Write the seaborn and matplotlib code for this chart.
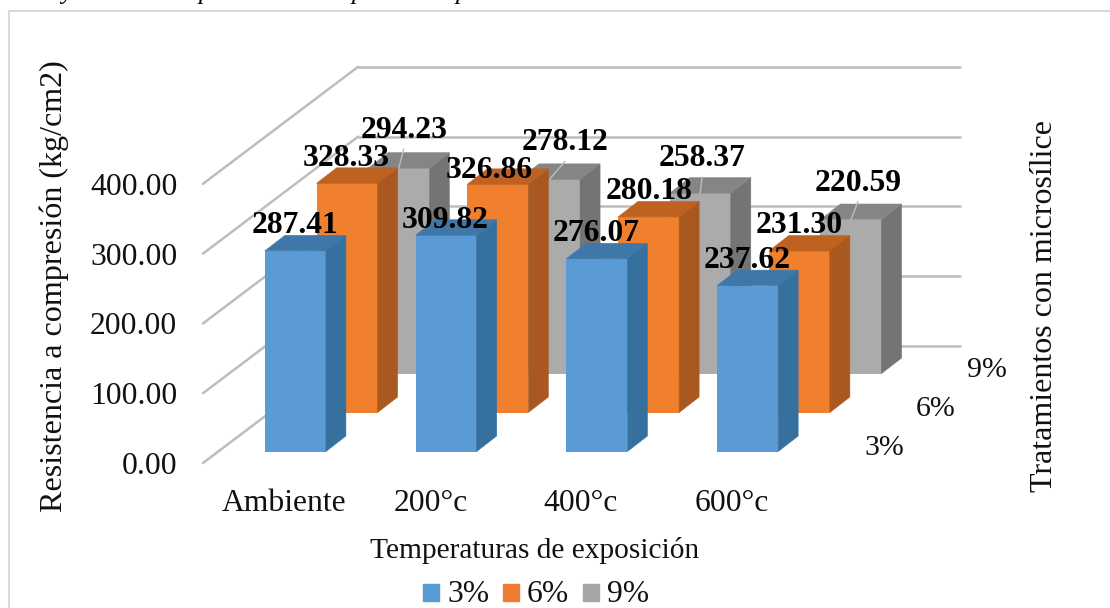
import seaborn as sns
import pandas as pd
import matplotlib.pyplot as plt
from matplotlib.legend_handler import HandlerPatch
from matplotlib.lines import Line2D
from matplotlib.patches import ConnectionPatch, Patch, Polygon, Rectangle
from matplotlib.transforms import ScaledTranslation

temperaturas = ["Ambiente", "200°c", "400°c", "600°c"]
tratamientos = ["3%", "6%", "9%"]
valores_3 = [287.41, 309.82, 276.07, 237.62]
valores_6 = [328.33, 326.86, 280.18, 231.30]
valores_9 = [294.23, 278.12, 258.37, 220.59]
y_ticks = [0, 100, 200, 300, 400]
letras_caption = ["y", "p", "p", "p"]

W, H = 1110, 608
sns.set_theme(style="white")
plt.rcParams["font.family"] = ["Liberation Serif", "DejaVu Serif"]
plt.rcParams["text.color"] = "#111111"

# colores: frente, lado, tapa
colores = [("#5B9BD5", "#36709F", "#3F78A8"),
           ("#F07F2E", "#A9581F", "#BF6120"),
           ("#ABABAB", "#747474", "#858585")]
color_leyenda = ["#5B9BD5", "#ED7D31", "#A5A5A5"]
color_grid = "#BDBDBD"

# posicion de cada etiqueta respecto a la barra, en pixeles
offsets = [[(-0.5, 18), (-1, 7), (-1, 18), (0, 17.6)],
           [(-1, 17.6), (-9, 6.6), (0, 18), (0, 18.4)],
           [(5, 30), (15.4, 29), (1.7, 27), (7, 29)]]
# ajuste horizontal de las etiquetas del eje x, en pixeles
ajuste_x = [6, 2, 1, 1]

ANCHO, ALTO = 603, 279.2   # plano frontal en pixeles
X0, Y0 = 203, 463
PASO_X, PASO_Y = 51.7, 39  # avance de cada fila en profundidad
MARGEN_X, MARGEN_Y = 17, 11.5
# profundidad de la barra en unidades de datos
DX = 20 / (ANCHO / 4)
DY = 15.5 / (ALTO / 400)


def make_axes(x, y, z):
    ax = fig.add_axes([x / W, 1 - y / H, ANCHO / W, ALTO / H], zorder=z)
    ax.set_xlim(-0.5, 3.5)
    ax.set_ylim(0, 400)
    ax.patch.set_visible(False)
    return ax


def cuadrado(legend, orig_handle, xdescent, ydescent, width, height, fontsize):
    return Rectangle((0, 1), width, width)


fig = plt.figure(figsize=(W / 100, H / 100), dpi=100)

# plano frontal: solo los ejes con sus etiquetas
front = make_axes(X0, Y0, 0)
front.set_xticks(range(4), temperaturas)
front.set_yticks(y_ticks, [f"{v:.2f}" for v in y_ticks])
front.tick_params(axis="both", length=0, labelsize=22.8, colors="#111111")
front.tick_params(axis="y", pad=18.5)
front.tick_params(axis="x", pad=19)
sns.despine(ax=front, left=True, bottom=True)
for lab, a in zip(front.get_xticklabels(), ajuste_x):
    lab.set_transform(lab.get_transform() + ScaledTranslation(a / 100, 0, fig.dpi_scale_trans))

# pared del fondo y lineas diagonales de la pared lateral
back = make_axes(X0 + 3 * PASO_X, Y0 - 3 * PASO_Y, 1)
back.hlines(y_ticks, -0.5, 3.5, color=color_grid, lw=1.8, clip_on=False)
back.set_axis_off()
for v in y_ticks:
    diag = ConnectionPatch((-0.5, v), (-0.5, v), coordsA=front.transData, coordsB=back.transData,
                           color=color_grid, lw=1.8, zorder=1)
    back.add_artist(diag)

# filas de atras hacia adelante
series = [valores_3, valores_6, valores_9]
for fila in [2, 1, 0]:
    ax = make_axes(X0 + MARGEN_X + fila * PASO_X, Y0 - MARGEN_Y - fila * PASO_Y, 5 - fila)
    df = pd.DataFrame({"temp": temperaturas, "valor": series[fila]})
    sns.barplot(data=df, x="temp", y="valor", color=colores[fila][0], saturation=1,
                width=0.405, linewidth=0, ax=ax)
    ax.set_xlim(-0.5, 3.5)
    ax.set_ylim(0, 400)
    ax.set_axis_off()

    for p in list(ax.patches):
        x0, x1, h = p.get_x(), p.get_x() + p.get_width(), p.get_height()
        ax.add_patch(Polygon([(x1, 0), (x1 + DX, DY), (x1 + DX, h + DY), (x1, h)],
                             fc=colores[fila][1], ec=colores[fila][1], lw=0.4, clip_on=False))
        ax.add_patch(Polygon([(x0, h), (x0 + DX, h + DY), (x1 + DX, h + DY), (x1, h)],
                             fc=colores[fila][2], ec=colores[fila][2], lw=0.4, clip_on=False))

    for i, v in enumerate(series[fila]):
        ox, oy = offsets[fila][i]
        if fila == 2:
            ax.annotate("", xy=(i, v), xytext=(ox, oy - 11), textcoords="offset pixels",
                        arrowprops=dict(arrowstyle="-", color=color_grid, lw=1, shrinkA=0, shrinkB=0))
        ax.annotate(f"{v:.2f}", xy=(i, v), xytext=(ox, oy), textcoords="offset pixels",
                    ha="center", va="baseline", fontsize=22.8, fontweight="bold", color="black")

    ax.annotate(tratamientos[fila], xy=(1, 0), xycoords="axes fraction", xytext=(41, -3.5),
                textcoords="offset pixels", ha="left", va="baseline", fontsize=21.5)

fig.text(54 / W, 1 - 286 / H, "Resistencia a compresión (kg/cm2)", rotation=90,
         ha="center", va="center", fontsize=23.1)
fig.text(1045 / W, 1 - 306 / H, "Tratamientos con microsílice", rotation=90,
         ha="center", va="center", fontsize=23)
fig.text(535 / W, 1 - 551 / H, "Temperaturas de exposición", ha="center", va="center", fontsize=21.2)

handles = [Patch(color=c, label=t) for c, t in zip(color_leyenda, tratamientos)]
fig.legend(handles=handles, loc="center", bbox_to_anchor=(536 / W, 1 - 594.5 / H), ncol=3,
           frameon=False, fontsize=22.8, handlelength=0.51, handleheight=0.6,
           handletextpad=0.24, columnspacing=0.44, borderpad=0, labelcolor="#111111",
           handler_map={Patch: HandlerPatch(patch_func=cuadrado)})

# marco de la figura (sin lado derecho ni inferior)
fig.add_artist(Line2D([8.5 / W, 8.5 / W, 1], [0, 1 - 10.5 / H, 1 - 10.5 / H], color="#D9D9D9", lw=1.5))

# restos del pie de figura cortado arriba
for letra, x in zip(letras_caption, [67, 205, 358, 462]):
    fig.text(x / W, 1 + 1 / H, letra, style="italic", ha="center", va="baseline", fontsize=18, color="black")

fig.savefig("out.png", dpi=100)
